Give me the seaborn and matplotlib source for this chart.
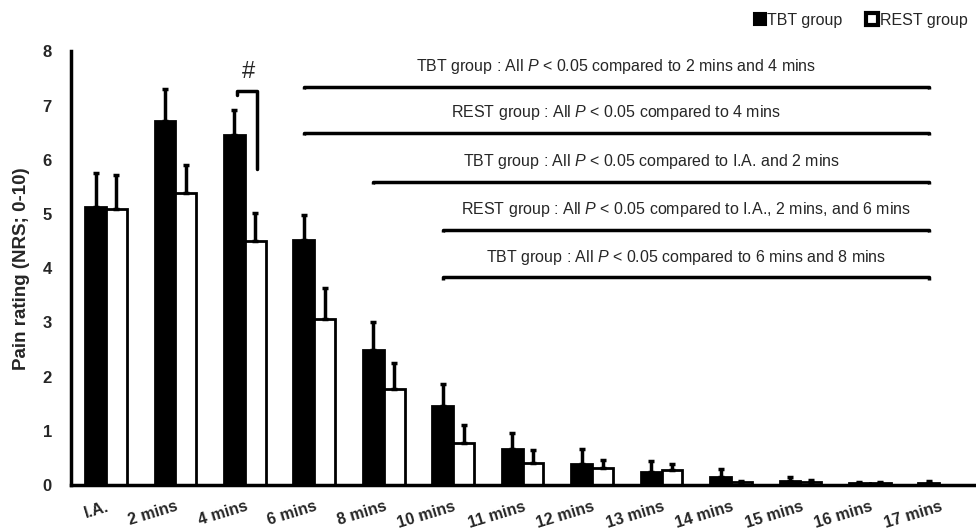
import numpy as np
import pandas as pd
import seaborn as sns
import matplotlib.pyplot as plt
from matplotlib.patches import Patch

# data
times = ["I.A.", "2 mins", "4 mins", "6 mins", "8 mins", "10 mins", "11 mins",
         "12 mins", "13 mins", "14 mins", "15 mins", "16 mins", "17 mins"]
tbt_mean = [5.13, 6.71, 6.45, 4.52, 2.49, 1.45, 0.67, 0.39, 0.24, 0.15, 0.08, 0.03, 0.04]
tbt_sem = [0.62, 0.59, 0.46, 0.47, 0.51, 0.42, 0.29, 0.28, 0.20, 0.14, 0.07, 0.03, 0.03]
rest_mean = [5.09, 5.38, 4.51, 3.07, 1.78, 0.77, 0.41, 0.31, 0.27, 0.05, 0.05, 0.03, 0.0]
rest_sem = [0.62, 0.53, 0.51, 0.56, 0.47, 0.34, 0.23, 0.15, 0.11, 0.02, 0.04, 0.03, 0.0]
groups = ["TBT group", "REST group"]

notes = [
    ("TBT group : All ", " < 0.05 compared to 2 mins and 4 mins", "6 mins", 7.34),
    ("REST group : All ", " < 0.05 compared to 4 mins", "6 mins", 6.49),
    ("TBT group : All ", " < 0.05 compared to I.A. and 2 mins", "8 mins", 5.59),
    ("REST group : All ", " < 0.05 compared to I.A., 2 mins, and 6 mins", "10 mins", 4.70),
    ("TBT group : All ", " < 0.05 compared to 6 mins and 8 mins", "10 mins", 3.83),
]

df = pd.DataFrame({
    "time": times * 2,
    "group": [groups[0]] * len(times) + [groups[1]] * len(times),
    "pain": tbt_mean + rest_mean,
    "sem": tbt_sem + rest_sem,
})

sns.set_theme(style="white")
plt.rcParams["font.family"] = ["Liberation Sans", "DejaVu Sans"]
plt.rcParams["mathtext.fontset"] = "custom"
plt.rcParams["mathtext.it"] = "Liberation Sans:italic"
plt.rcParams["mathtext.rm"] = "Liberation Sans"

fig = plt.figure(figsize=(9.76, 5.29), dpi=100)
ax = fig.add_axes([0.073, 0.083, 0.925, 0.82])

sns.barplot(data=df, x="time", y="pain", hue="group", order=times, hue_order=groups,
            palette=["black", "white"], edgecolor="black", linewidth=2,
            width=0.6, errorbar=None, legend=False, ax=ax)

# upward-only error bars on each bar
bars = [p for p in ax.patches if p.get_width() > 0]
for p, (m, e) in zip(bars, list(zip(tbt_mean, tbt_sem)) + list(zip(rest_mean, rest_sem))):
    if e <= 0:
        continue
    cx = p.get_x() + p.get_width() / 2
    ax.errorbar(cx, m, yerr=[[0], [e]], fmt="none", ecolor="black",
                elinewidth=2.5, capsize=2.5, capthick=2.5, zorder=3)

ax.set_xlim(-0.5, len(times) - 0.5)
ax.set_ylim(0, 8)
ax.set_yticks(range(0, 9))
ax.set_xlabel("")
ax.set_ylabel("Pain rating (NRS; 0-10)", fontsize=13.5, fontweight="bold", labelpad=9)
for lab in ax.get_yticklabels():
    lab.set_fontweight("bold")
    lab.set_fontsize(12)
ax.tick_params(axis="x", length=0, pad=10)
ax.tick_params(axis="y", length=0, pad=14)
ax.set_xticks(range(len(times)))
ax.set_xticklabels(times, rotation=17, fontsize=11.5, fontweight="bold",
                   ha="right", va="top", rotation_mode="anchor")
sns.despine(ax=ax)
ax.spines["left"].set_linewidth(2.5)
ax.spines["bottom"].set_linewidth(2.5)
ax.spines["left"].set_color("black")
ax.spines["bottom"].set_color("black")

# significance brackets
off = 0.15
end = len(times) - 1 - off
for pre, post, start, y in notes:
    x0 = times.index(start) - off
    ax.plot([x0, x0, end, end], [y - 0.04, y, y, y - 0.04], color="black",
            lw=2.5, solid_capstyle="butt", zorder=4)
    xm = (x0 + end) / 2
    ax.text(xm, y + 0.2, pre + "$\\mathit{P}$" + post, ha="center", va="bottom",
            fontsize=11.5)

# '#' between groups at 4 mins
i4 = times.index("4 mins")
ax.plot([i4 - 0.12, i4 - 0.12, i4 + 0.18, i4 + 0.18], [7.20, 7.26, 7.26, 5.83],
        color="black", lw=2.5, zorder=4)
ax.text(i4 + 0.05, 7.42, "#", ha="center", va="bottom", fontsize=17)

handles = [Patch(facecolor="black", edgecolor="black", linewidth=1.5, label=groups[0]),
           Patch(facecolor="white", edgecolor="black", linewidth=3, label=groups[1])]
ax.legend(handles=handles, loc="lower right", bbox_to_anchor=(1.0, 1.04), ncol=2,
          frameon=False, fontsize=11.5, handlelength=0.75, handleheight=0.75,
          handletextpad=0.1, columnspacing=1.5, borderaxespad=0)

plt.savefig("out.png", dpi=100)
